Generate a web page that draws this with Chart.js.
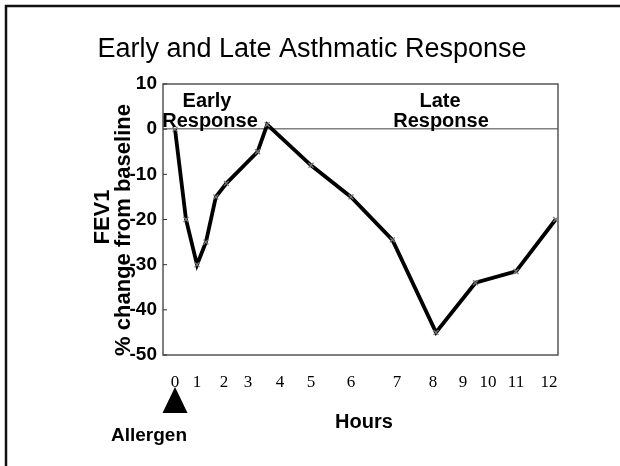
<!DOCTYPE html>
<html><head><meta charset="utf-8">
<script src="https://cdn.jsdelivr.net/npm/chart.js@4.4.1/dist/chart.umd.min.js"></script>
<style>html,body{margin:0;padding:0;background:#fff;}canvas{display:block;}</style>
</head><body>
<canvas id="c" width="620" height="466"></canvas>
<script>
// ---- data ----
const hourLabels = ['0','1','2','3','4','5','6','7','8','9','10','11','12'];
const sampleHours = [0, 0.5, 1, 1.33, 1.7, 2.1, 3.3, 3.6, 5, 6, 6.9, 8.1, 9.5, 11, 12.2];
const fev1Change  = [0, -20, -30, -25, -15, -12, -5, 1, -8, -15, -24.5, -45, -34, -31.5, -20];
const yTickValues = [10, 0, -10, -20, -30, -40, -50];
const titleText = 'Early and Late Asthmatic Response';
const yTitleLines = ['FEV1', '% change from baseline'];
const xTitleText = 'Hours';
const earlyLabel = ['Early', 'Response'];
const lateLabel = ['Late', 'Response'];
const markerLabel = 'Allergen';

// ---- non-uniform hour axis (layout of the original's hand-placed hour labels) ----
const xAxisWarp = {
  hours: [-0.55, 0, 1, 2, 3, 4, 5, 6, 7, 8, 9, 10, 11, 12, 12.27],
  frac:  [0, 0.0304, 0.0861, 0.1544, 0.2152, 0.2962, 0.3747, 0.4759, 0.5924, 0.6835, 0.7595, 0.8228, 0.8937, 0.9772, 1]
};
function warpFrac(v) {
  const h = xAxisWarp.hours, f = xAxisWarp.frac;
  let i = 1;
  while (i < h.length - 1 && v > h[i]) i++;
  const t = (v - h[i-1]) / (h[i] - h[i-1]);
  return f[i-1] + t * (f[i] - f[i-1]);
}
function warpInv(d) {
  const h = xAxisWarp.hours, f = xAxisWarp.frac;
  let i = 1;
  while (i < f.length - 1 && d > f[i]) i++;
  const t = (d - f[i-1]) / (f[i] - f[i-1]);
  return h[i-1] + t * (h[i] - h[i-1]);
}
class WarpScale extends Chart.LinearScale {
  getPixelForValue(v) { return this.getPixelForDecimal(warpFrac(v)); }
  getValueForPixel(p) { return warpInv(this.getDecimalForPixel(p)); }
}
WarpScale.id = 'warp';
WarpScale.defaults = Chart.LinearScale.defaults;
Chart.register(WarpScale);

const SANS = "'Liberation Sans', Arial, sans-serif";
const SERIF = "'Liberation Serif', 'Times New Roman', serif";

const decor = {
  id: 'decor',
  beforeDraw(chart) {
    const ctx = chart.ctx;
    ctx.save();
    ctx.fillStyle = '#fff';
    ctx.fillRect(0, 0, chart.width, chart.height);
    ctx.restore();
  },
  beforeDatasetsDraw(chart) {
    const {ctx, chartArea: a, scales} = chart;
    ctx.save();
    // plot frame
    ctx.strokeStyle = '#555';
    ctx.lineWidth = 1.5;
    ctx.strokeRect(a.left, a.top, a.right - a.left, a.bottom - a.top);
    // inner y ticks
    ctx.strokeStyle = '#333';
    ctx.lineWidth = 1;
    yTickValues.forEach(v => {
      const y = scales.y.getPixelForValue(v);
      ctx.beginPath(); ctx.moveTo(a.left, y); ctx.lineTo(a.left + 4, y); ctx.stroke();
    });
    ctx.restore();
  },
  afterDraw(chart) {
    const {ctx, chartArea: a, scales} = chart;
    ctx.save();
    // outer frame (left and top edges)
    ctx.strokeStyle = '#111';
    ctx.lineWidth = 2.5;
    ctx.beginPath();
    ctx.moveTo(6, chart.height + 5); ctx.lineTo(6, 6); ctx.lineTo(chart.width + 5, 6);
    ctx.stroke();

    ctx.fillStyle = '#000';
    // title
    ctx.font = '27px ' + SANS;
    ctx.textAlign = 'center';
    ctx.textBaseline = 'alphabetic';
    ctx.fillText(titleText, 312, 57);

    // phase labels
    ctx.font = 'bold 20px ' + SANS;
    ctx.fillText(earlyLabel[0], 207, 107);
    ctx.fillText(earlyLabel[1], 210, 127);
    ctx.fillText(lateLabel[0], 440, 107);
    ctx.fillText(lateLabel[1], 441, 127);

    // x title
    ctx.fillText(xTitleText, 364, 428);

    // y title (two rotated lines)
    ctx.font = 'bold 22px ' + SANS;
    ctx.save(); ctx.translate(109, 217); ctx.rotate(-Math.PI / 2);
    ctx.fillText(yTitleLines[0], 0, 0); ctx.restore();
    ctx.save(); ctx.translate(130, 230); ctx.rotate(-Math.PI / 2);
    ctx.fillText(yTitleLines[1], 0, 0); ctx.restore();

    // allergen marker at hour 0
    const x0 = scales.x.getPixelForValue(0);
    ctx.beginPath();
    ctx.moveTo(x0, 387); ctx.lineTo(x0 + 12.5, 413); ctx.lineTo(x0 - 12.5, 413); ctx.closePath();
    ctx.fill();
    ctx.font = 'bold 19px ' + SANS;
    ctx.fillText(markerLabel, 149, 441);
    ctx.restore();
  }
};

new Chart(document.getElementById('c'), {
  type: 'line',
  data: {
    datasets: [{
      data: sampleHours.map((h, i) => ({x: h, y: fev1Change[i]})),
      borderColor: '#000',
      borderWidth: 3.8,
      tension: 0,
      pointStyle: 'crossRot',
      pointRadius: 3.5,
      pointBorderColor: '#777',
      pointBorderWidth: 1.3,
      pointBackgroundColor: '#fff',
      clip: false
    }]
  },
  options: {
    responsive: false,
    animation: false,
    events: [],
    layout: {padding: {left: 0, top: 84, right: 62, bottom: 0}},
    plugins: {legend: {display: false}, tooltip: {enabled: false}, title: {display: false}},
    scales: {
      x: {
        type: 'warp',
        min: -0.55, max: 12.27,
        afterFit: s => { s.height = 111; },
        afterBuildTicks: s => { s.ticks = hourLabels.map((_, i) => ({value: i})); },
        grid: {display: false, drawTicks: false},
        border: {display: false},
        ticks: {
          autoSkip: false, maxRotation: 0, padding: 17,
          color: '#000',
          font: {family: SERIF, size: 17},
          callback: (v, i) => hourLabels[i]
        },
        title: {display: false}
      },
      y: {
        min: -50, max: 10,
        afterFit: s => { s.width = 163; },
        afterBuildTicks: s => { s.ticks = yTickValues.map(v => ({value: v})); },
        grid: {
          drawTicks: false,
          color: c => (c.tick && c.tick.value === 0) ? '#808080' : 'rgba(0,0,0,0)',
          lineWidth: 1.5
        },
        border: {display: false},
        ticks: {
          padding: 6, color: '#000',
          font: {family: SANS, size: 19, weight: 'bold'}
        }
      }
    }
  },
  plugins: [decor]
});
</script>
</body></html>
